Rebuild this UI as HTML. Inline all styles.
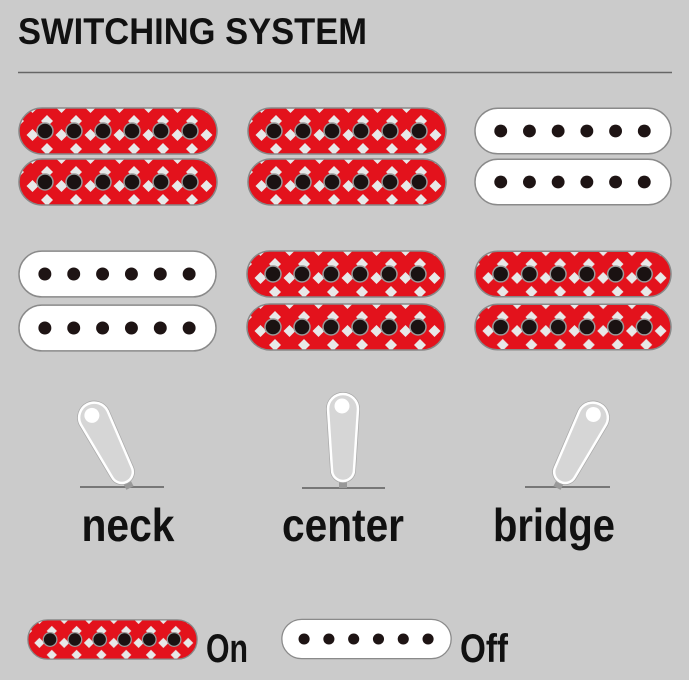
<!DOCTYPE html>
<html><head><meta charset="utf-8"><style>
html,body{margin:0;padding:0;background:#cbcbcb;}
svg{display:block;}
</style></head><body>
<svg width="689" height="680" viewBox="0 0 689 680" xmlns="http://www.w3.org/2000/svg">
<defs>
  <pattern id="dia" x="0" y="0" width="29" height="28" patternUnits="userSpaceOnUse">
    <rect width="29" height="28" fill="#e3121c"/>
    <polygon points="14.5,-6 20.5,0 14.5,6 8.5,0" fill="#e8e8e8"/>
    <polygon points="14.5,22 20.5,28 14.5,34 8.5,28" fill="#e8e8e8"/>
    <polygon points="0,8 6,14 0,20 -6,14" fill="#e8e8e8"/>
    <polygon points="29,8 35,14 29,20 23,14" fill="#e8e8e8"/>
  </pattern>
  <symbol id="red" viewBox="0 0 200 48">
    <rect x="1" y="1" width="198" height="46" rx="23" fill="url(#dia)" stroke="#888" stroke-width="1.5"/>
    <g fill="#1a1212" stroke="#9a9a9a" stroke-width="1.5">
      <circle cx="27" cy="24" r="8"/><circle cx="56" cy="24" r="8"/><circle cx="85" cy="24" r="8"/>
      <circle cx="114" cy="24" r="8"/><circle cx="143" cy="24" r="8"/><circle cx="172" cy="24" r="8"/>
    </g>
  </symbol>
  <symbol id="white" viewBox="0 0 200 48">
    <rect x="1" y="1" width="198" height="46" rx="23" fill="#fff" stroke="#8a8a8a" stroke-width="1.5"/>
    <g fill="#1e1414">
      <circle cx="27" cy="24" r="6.5"/><circle cx="56" cy="24" r="6.5"/><circle cx="85" cy="24" r="6.5"/>
      <circle cx="114" cy="24" r="6.5"/><circle cx="143" cy="24" r="6.5"/><circle cx="172" cy="24" r="6.5"/>
    </g>
  </symbol>
  <g id="lever">
    <rect x="-4" y="80" width="8" height="14" fill="#999"/>
    <path d="M-15,15 A15,15 0 0 1 15,15 L11,76 A11,11 0 0 1 -11,76 Z" fill="#d6d6d6" stroke="#aaa" stroke-width="4"/>
    <path d="M-15,15 A15,15 0 0 1 15,15 L11,76 A11,11 0 0 1 -11,76 Z" fill="#d6d6d6" stroke="#fff" stroke-width="2.5"/>
    <circle cx="-1" cy="12" r="7.5" fill="#fff"/>
  </g>
</defs>

<text x="18" y="44" font-family="Liberation Sans, sans-serif" font-weight="bold" font-size="37" textLength="349" lengthAdjust="spacingAndGlyphs" fill="#111">SWITCHING SYSTEM</text>
<line x1="18" y1="72.5" x2="672" y2="72.5" stroke="#666" stroke-width="1.5"/>

<use href="#red" x="18" y="107" width="200" height="48"/>
<use href="#red" x="18" y="158" width="200" height="48"/>
<use href="#red" x="247" y="107" width="200" height="48"/>
<use href="#red" x="247" y="158" width="200" height="48"/>
<use href="#white" x="474" y="107" width="198" height="48"/>
<use href="#white" x="474" y="158" width="198" height="48"/>

<use href="#white" x="18" y="250" width="199" height="48"/>
<use href="#white" x="18" y="304" width="199" height="48"/>
<use href="#red" x="246" y="250" width="200" height="48"/>
<use href="#red" x="246" y="303" width="200" height="48"/>
<use href="#red" x="474" y="250" width="198" height="48"/>
<use href="#red" x="474" y="303" width="198" height="48"/>

<g stroke="#777" stroke-width="2">
  <line x1="80" y1="487" x2="164" y2="487"/>
  <line x1="302" y1="488" x2="385" y2="488"/>
  <line x1="525" y1="487" x2="610" y2="487"/>
</g>
<g transform="translate(130,488) rotate(-27) translate(0,-94)"><use href="#lever"/></g>
<g transform="translate(343,488) translate(0,-94)"><use href="#lever"/></g>
<g transform="translate(557,488) rotate(27) translate(0,-94)"><use href="#lever"/></g>

<g font-family="Liberation Sans Narrow, Liberation Sans, sans-serif" font-weight="bold" font-size="46" fill="#111" text-anchor="middle">
  <text x="128" y="541" textLength="93" lengthAdjust="spacingAndGlyphs">neck</text>
  <text x="343" y="541" textLength="122" lengthAdjust="spacingAndGlyphs">center</text>
  <text x="554" y="541" textLength="122" lengthAdjust="spacingAndGlyphs">bridge</text>
</g>

<use href="#red" x="27" y="617" width="171" height="45" preserveAspectRatio="none"/>
<use href="#white" x="281" y="617" width="171" height="44" preserveAspectRatio="none"/>
<g font-family="Liberation Sans Narrow, Liberation Sans, sans-serif" font-weight="bold" font-size="40" fill="#111">
  <text x="206" y="662" textLength="42" lengthAdjust="spacingAndGlyphs">On</text>
  <text x="460" y="662" textLength="48" lengthAdjust="spacingAndGlyphs">Off</text>
</g>
</svg>
</body></html>
